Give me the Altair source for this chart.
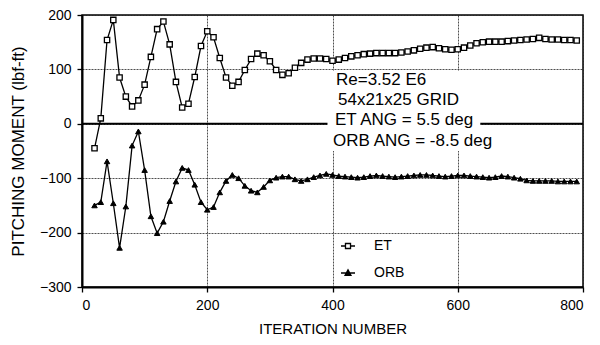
import altair as alt
import pandas as pd

# ---------------- data ----------------
ITERATION = [20, 30, 40, 50, 60, 70, 80, 90, 100, 110, 120, 130, 140, 150, 160, 170,
             180, 190, 200, 210, 220, 230, 240, 250, 260, 270, 280, 290, 300, 310,
             320, 330, 340, 350, 360, 370, 380, 390, 400, 410, 420, 430, 440, 450,
             460, 470, 480, 490, 500, 510, 520, 530, 540, 550, 560, 570, 580, 590,
             600, 610, 620, 630, 640, 650, 660, 670, 680, 690, 700, 710, 720, 730,
             740, 750, 760, 770, 780, 790]

ET = [-45, 10, 154, 191, 85, 50, 32, 43, 72, 123, 174, 188, 146, 77, 30, 37,
      86, 143, 170, 159, 121, 85, 70, 77, 99, 119, 129, 126, 115, 99,
      90, 93, 103, 112, 118, 120, 120, 119, 116, 118, 121, 124, 126, 128,
      129, 130, 130, 130, 130, 131, 133, 135, 138, 140, 141, 139, 137, 136,
      137, 140, 144, 148, 150, 151, 151, 151, 152, 153, 154, 155, 156, 158,
      156, 155, 155, 154, 154, 153]

ORB = [-150, -144, -69, -146, -228, -152, -40, -14, -85, -170, -201, -180, -142, -106, -81, -85,
       -112, -144, -158, -153, -126, -105, -94, -100, -114, -123, -126, -116, -104, -99,
       -97, -97, -102, -105, -102, -98, -95, -92, -94, -96, -97, -98, -99, -98,
       -96, -95, -96, -97, -98, -97, -96, -95, -94, -94, -95, -96, -97, -96,
       -95, -95, -96, -97, -98, -99, -98, -96, -97, -99, -101, -104, -105, -105,
       -105, -105, -106, -106, -106, -106]

SERIES = ["ET", "ORB"]
X_TICKS = [0, 200, 400, 600, 800]
Y_TICKS = [-300, -200, -100, 0, 100, 200]

NOTES = ["Re=3.52 E6", "54x21x25 GRID", "ET ANG = 5.5 deg", "ORB ANG = -8.5 deg"]

# ---------------- tables ----------------
et_df = pd.DataFrame({"iteration": ITERATION, "moment": ET, "series": "ET"})
orb_df = pd.DataFrame({"iteration": ITERATION, "moment": ORB, "series": "ORB"})
all_df = pd.concat([et_df, orb_df], ignore_index=True)

FONT = "Liberation Sans"

x_enc = alt.X("iteration:Q",
              scale=alt.Scale(domain=[0, 800], nice=False, zero=False),
              axis=alt.Axis(values=X_TICKS, title="ITERATION NUMBER", format="d", grid=True))
y_enc = alt.Y("moment:Q",
              scale=alt.Scale(domain=[-300, 200], nice=False, zero=False),
              axis=alt.Axis(values=Y_TICKS, title="PITCHING MOMENT (lbf-ft)", format="d", grid=True))

ONE_ROW = "datum.iteration == 20 && datum.series == 'ET'"

lines = alt.Chart(all_df).mark_line(color="black", strokeWidth=1.3).encode(
    x=x_enc, y=y_enc, detail="series:N"
)

zero_rule = alt.Chart(all_df).mark_rule(color="black", strokeWidth=2).encode(
    y=alt.datum(0)
).transform_filter(ONE_ROW)

note_box = alt.Chart(all_df).mark_rect(fill="white").encode(
    x=alt.datum(392), x2=alt.datum(636), y=alt.datum(98), y2=alt.datum(-50)
).transform_filter(ONE_ROW)

note_pos = [(405.6, 80.5), (408.8, 43.8), (404.0, 7.0), (400.8, -31.6)]
note_layers = []
for txt, (nx, ny) in zip(NOTES, note_pos):
    note_layers.append(
        alt.Chart(all_df).mark_text(align="left", baseline="middle", font=FONT,
                                    fontSize=17, color="black").encode(
            x=alt.datum(nx), y=alt.datum(ny), text=alt.value(txt)
        ).transform_filter(ONE_ROW)
    )

et_pts = alt.Chart(et_df).mark_point(shape="square", filled=True, fill="white",
                                      stroke="black", strokeWidth=1.3, size=28,
                                      opacity=1).encode(x=x_enc, y=y_enc)
orb_pts = alt.Chart(orb_df).mark_point(shape="triangle-up", filled=True, fill="black",
                                        stroke="black", strokeWidth=1, size=30,
                                        opacity=1).encode(x=x_enc, y=y_enc)

ET_SYM = "M-1,0H-0.36M0.36,0H1M-0.36,-0.36H0.36V0.36H-0.36Z"
ORB_SYM = "M-1,0H1M0,-0.45L0.42,0.32H-0.42Z"

leg = dict(title=None, orient="none", legendX=258, legendY=223,
           padding=0, rowPadding=12, labelOffset=18,
           symbolSize=196, symbolStrokeColor="black",
           symbolStrokeWidth=1.3, labelFont=FONT,
           labelFontSize=14, labelColor="black", symbolOpacity=1)

legend_layer = alt.Chart(all_df).mark_point(filled=True, strokeWidth=1.3, size=196, opacity=1).encode(
    x=x_enc, y=y_enc,
    shape=alt.Shape("series:N", scale=alt.Scale(domain=SERIES, range=[ET_SYM, ORB_SYM]),
                    legend=alt.Legend(**leg)),
    fill=alt.Fill("series:N", scale=alt.Scale(domain=SERIES, range=["white", "black"]),
                  legend=alt.Legend(**leg)),
    stroke=alt.Stroke("series:N", scale=alt.Scale(domain=SERIES, range=["black", "black"]),
                      legend=alt.Legend(**leg)),
).transform_filter("false")

chart = alt.layer(lines, zero_rule, note_box, *note_layers, et_pts, orb_pts, legend_layer).properties(
    width=501, height=272,
    padding={"left": 82, "top": 15, "right": 17, "bottom": 58},
    autosize="none",
    background="white",
).configure_view(
    stroke="black", strokeWidth=1.5
).configure_axis(
    grid=True,
    labelFont=FONT, labelFontSize=14, labelColor="black",
    titleFont=FONT, titleFontWeight="normal", titleColor="black",
    domainColor="black", domainWidth=2, tickColor="black", tickSize=5, tickWidth=1.3,
    gridColor="#222222", gridWidth=0.8, gridDash=[2, 1], gridOpacity=1,
).configure_axisX(
    labelPadding=6, titleFontSize=15, titlePadding=9,
).configure_axisY(
    labelPadding=6, titleFontSize=17, titlePadding=12,
)

chart.save("out.html", embed_options={"renderer": "svg", "actions": False})
